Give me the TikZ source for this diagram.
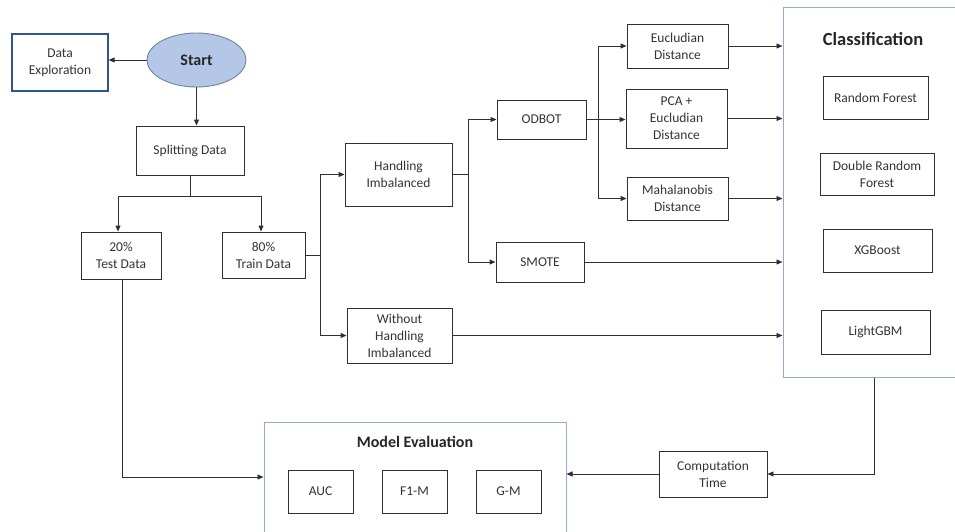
\documentclass[tikz,border=0pt]{standalone}
\usepackage{fontspec}
\setmainfont{Carlito}
\usetikzlibrary{arrows.meta,shapes.geometric}
\definecolor{txt}{HTML}{333333}
\definecolor{edge}{HTML}{303030}
\definecolor{darkblue}{HTML}{2F5597}
\definecolor{lightblue}{HTML}{8FAADC}
\definecolor{startfill}{HTML}{B4C7E7}
\definecolor{startline}{HTML}{6F82A0}
\tikzset{
  box/.style={draw=edge, line width=0.9pt, rectangle, align=center, text=txt, font=\fontsize{13.5}{17}\selectfont, inner sep=1pt},
  container/.style={draw=lightblue, line width=1pt, rectangle},
  title/.style={font=\fontsize{18.5}{22}\selectfont\bfseries, text=black!85},
  conn/.style={draw=edge, line width=0.9pt},
  arr/.style={conn, -{Triangle[length=6pt,width=5pt]}},
}
\begin{document}
\begin{tikzpicture}[x=1pt,y=-1pt]
\useasboundingbox (0,0) rectangle (955,531);
% containers
\node[container, minimum width=197pt, minimum height=370pt] (class) at (881.5,192) {};
\node[title] (classt) at (873,39) {Classification};
\node[container, minimum width=302pt, minimum height=150pt] (eval) at (415,497) {};
\node[title, font=\fontsize{16}{19}\selectfont\bfseries] (evalt) at (415,442) {Model Evaluation};
% nodes
\node[box, draw=darkblue, line width=1.2pt, minimum width=96pt, minimum height=57pt] (dexp) at (60,62.5) {Data\\Exploration};
\node[ellipse, draw=startline, fill=startfill, line width=0.9pt, minimum width=99pt, minimum height=54pt, font=\fontsize{16}{19}\selectfont\bfseries, text=black!85] (start) at (196.5,60) {Start};
\node[box, minimum width=108pt, minimum height=49pt] (split) at (190,150.5) {Splitting Data};
\node[box, minimum width=80pt, minimum height=47pt] (test) at (121,255.5) {20\%\\Test Data};
\node[box, minimum width=83pt, minimum height=46pt] (train) at (263.5,255) {80\%\\Train Data};
\node[box, minimum width=107pt, minimum height=63pt] (handle) at (398.5,174.5) {Handling\\Imbalanced};
\node[box, minimum width=105pt, minimum height=55pt] (without) at (399.5,335.5) {Without\\Handling\\Imbalanced};
\node[box, minimum width=89pt, minimum height=39pt] (odbot) at (541.5,119.5) {ODBOT};
\node[box, minimum width=88pt, minimum height=40pt] (smote) at (540,262) {SMOTE};
\node[box, minimum width=101pt, minimum height=44pt] (euc) at (677.5,46) {Eucludian\\Distance};
\node[box, minimum width=101pt, minimum height=59pt] (pca) at (676.5,118.5) {PCA +\\Eucludian\\Distance};
\node[box, minimum width=101pt, minimum height=43pt] (maha) at (677.5,198.5) {Mahalanobis\\Distance};
\node[box, minimum width=105pt, minimum height=43pt] (rf) at (875.5,97.5) {Random Forest};
\node[box, minimum width=114pt, minimum height=42pt] (drf) at (877,174) {Double Random\\Forest};
\node[box, minimum width=109pt, minimum height=43pt] (xgb) at (877.5,250.5) {XGBoost};
\node[box, minimum width=109pt, minimum height=44pt] (lgbm) at (875.5,332) {LightGBM};
\node[box, minimum width=108pt, minimum height=46pt] (comp) at (713,474) {Computation\\Time};
\node[box, minimum width=65pt, minimum height=43pt] (auc) at (320.5,491.5) {AUC};
\node[box, minimum width=65pt, minimum height=43pt] (f1) at (414.5,491.5) {F1-M};
\node[box, minimum width=65pt, minimum height=43pt] (gm) at (508.5,491.5) {G-M};
% junction coordinates
\coordinate (sp) at (190,196);
\coordinate (spl) at (118,196);
\coordinate (spr) at (261,196);
\coordinate (tb) at (320,255);
\coordinate (hb) at (468,174.5);
\coordinate (ob) at (598,119.5);
\coordinate (cb) at (874,474);
\coordinate (tt) at (122,477);
% connectors
\draw[arr] (start.west) -- (start.west -| dexp.east);
\draw[arr] (start.south) -- (start.south |- split.north);
\draw[conn] (split.south) -- (sp) -- (spl);
\draw[conn] (sp) -- (spr);
\draw[arr] (spl) -- (spl |- test.north);
\draw[arr] (spr) -- (spr |- train.north);
\draw[conn] (train.east |- tb) -- (tb);
\draw[arr] (tb) |- (handle.west);
\draw[arr] (tb) |- (without.west);
\draw[conn] (handle.east) -- (hb);
\draw[arr] (hb) |- (odbot.west);
\draw[arr] (hb) |- (smote.west);
\draw[conn] (odbot.east) -- (ob);
\draw[arr] (ob) |- (euc.west);
\draw[arr] (ob) -- (ob -| pca.west);
\draw[arr] (ob) |- (maha.west);
\draw[arr] (euc.east) -- (euc.east -| class.west);
\draw[arr] (pca.east) -- (pca.east -| class.west);
\draw[arr] (maha.east) -- (maha.east -| class.west);
\draw[arr] (smote.east) -- (smote.east -| class.west);
\draw[arr] (without.east) -- (without.east -| class.west);
\draw[arr] (cb |- class.south) -- (cb) -- (comp.east);
\draw[arr] (comp.west) -- (comp.west -| eval.east);
\draw[arr] (tt |- test.south) -- (tt) -- (tt -| eval.west);
\end{tikzpicture}
\end{document}
